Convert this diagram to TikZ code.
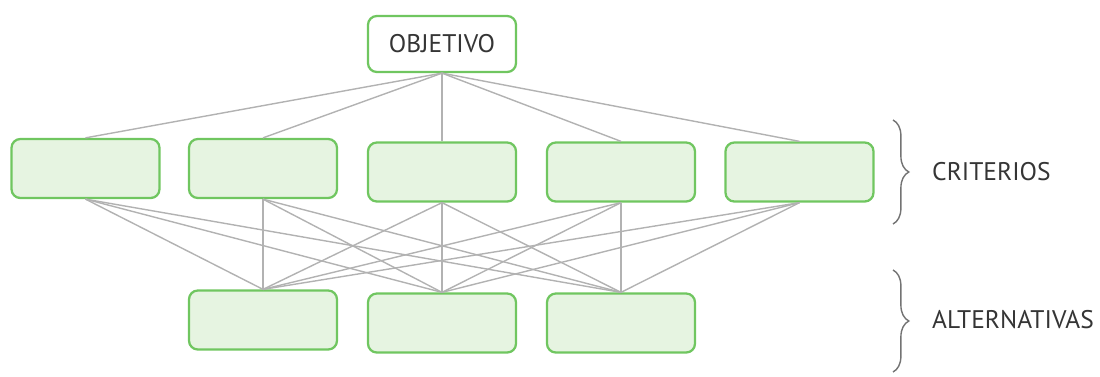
\documentclass[tikz,border=0pt]{standalone}
\usepackage{fontspec}
\setmainfont{PT Sans}
\usetikzlibrary{decorations.pathreplacing}

\definecolor{verde}{HTML}{70C660}
\definecolor{verdeclaro}{HTML}{E6F4E1}
\definecolor{texto}{HTML}{353535}

\begin{document}
\begin{tikzpicture}[x=0.02cm,y=-0.02cm,
    caja/.style={draw=verde,line width=1.3pt,rounded corners=5pt,fill=verdeclaro,
                 minimum width=2.96cm,minimum height=1.18cm,inner sep=0pt},
    linea/.style={draw=black!30,line width=0.8pt},
    llave/.style={draw=black!55,line width=0.8pt,decorate,
                  decoration={brace,amplitude=9pt}},
    rotulo/.style={text=texto,font=\fontsize{14.5}{17}\selectfont,anchor=west}]
  \useasboundingbox (0,0) rectangle (1100,376);
  % objetivo
  \node[caja,fill=white,minimum height=1.12cm,text=texto,
        font=\fontsize{14.5}{17}\selectfont] (obj) at (442,44) {OBJETIVO};
  % criterios
  \node[caja] (c1) at (85.5,168.5){};
  \node[caja] (c2) at (263,168.5){};
  \node[caja] (c3) at (442,172){};
  \node[caja] (c4) at (621,172){};
  \node[caja] (c5) at (799.5,172){};
  % alternativas
  \node[caja] (a1) at (263,320){};
  \node[caja] (a2) at (442,323){};
  \node[caja] (a3) at (621,323){};
  % lineas
  \foreach \c in {1,...,5}
    \draw[linea] (obj.south) -- (c\c.north);
  \foreach \c in {1,...,5}
    \foreach \a in {1,2,3}
      \draw[linea] (c\c.south) -- (a\a.north);
  % llaves y rotulos
  \draw[llave] (893,120) -- (893,224);
  \node[rotulo] (crit) at (926,172) {CRITERIOS};
  \draw[llave] (893,270) -- (893,372);
  \node[rotulo] (alt) at (926,320) {ALTERNATIVAS};
\end{tikzpicture}
\end{document}
